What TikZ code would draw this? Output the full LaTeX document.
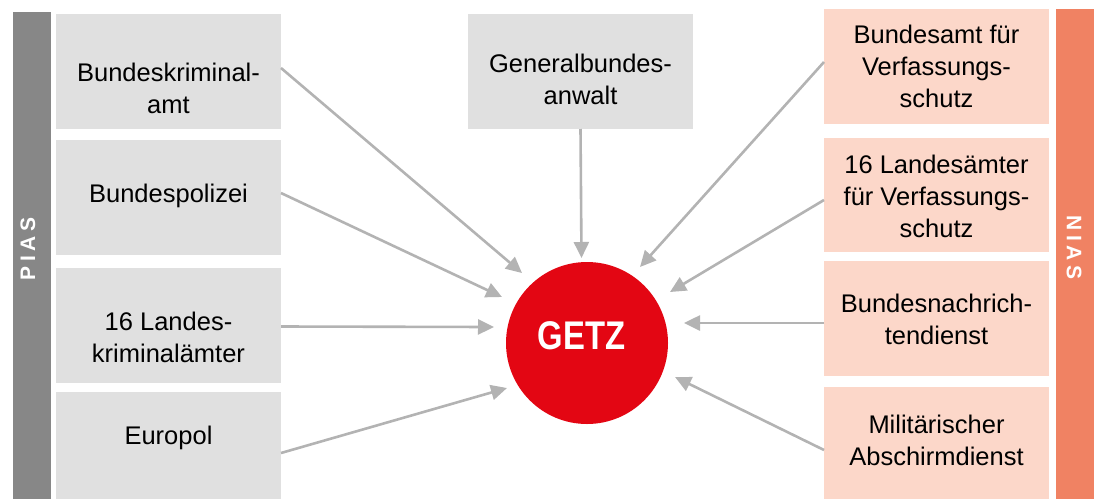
\documentclass[tikz,border=0pt]{standalone}
\usepackage{fontspec}
\setmainfont{Liberation Sans}
\usepackage{graphicx}
\usetikzlibrary{arrows.meta}
\definecolor{boxgray}{HTML}{E0E0E0}
\definecolor{bargray}{HTML}{878787}
\definecolor{boxsalmon}{HTML}{FCD7C9}
\definecolor{barsalmon}{HTML}{F08263}
\definecolor{getzred}{HTML}{E30613}
\definecolor{arrgray}{HTML}{B3B3B3}
\begin{document}
\begin{tikzpicture}[x=1pt,y=-1pt,
  gbox/.style={fill=boxgray, draw=none, rectangle, minimum width=225pt, outer sep=0pt, inner sep=0pt},
  sbox/.style={fill=boxsalmon, draw=none, rectangle, minimum width=225pt, outer sep=0pt, inner sep=0pt},
  bar/.style={draw=none, rectangle, minimum width=38pt, outer sep=0pt, inner sep=0pt},
  lbl/.style={font=\fontsize{25.5}{32}\selectfont, align=center, anchor=base, inner sep=0pt, text=black},
  vlbl/.style={font=\fontsize{21}{24}\bfseries\selectfont, text=white, inner sep=0pt},
  arr/.style={draw=arrgray, line width=2.6pt, -{Triangle[length=16pt,width=15pt]}}
]
\useasboundingbox (0,0) rectangle (1103,499);
% side bars
\node[bar, fill=bargray, minimum height=487pt] (pbar) at (32,255.5) {};
\node[bar, fill=barsalmon, minimum height=490pt] (nbar) at (1075,254) {};
\node[vlbl, rotate=90] (pias) at (28,249) {P\kern4.5pt I\kern4.5pt A\kern4.5pt S};
\node[vlbl, rotate=-90] (nias) at (1074,247.5) {N\kern4.5pt I\kern4.5pt A\kern4.5pt S};
% left boxes
\node[gbox, minimum height=115pt] (l1) at (168.5,71.5) {};
\node[gbox, minimum height=115pt] (l2) at (168.5,197.5) {};
\node[gbox, minimum height=115pt] (l3) at (168.5,325.5) {};
\node[gbox, minimum height=107pt] (l4) at (168.5,445.5) {};
\node[lbl] (l1t) at (168.5,113) {Bundeskriminal-\\amt};
\node[lbl] (l2t) at (168.5,202) {Bundespolizei};
\node[lbl] (l3t) at (168.5,362) {16 Landes-\\kriminalämter};
\node[lbl] (l4t) at (168.5,444) {Europol};
% center box
\node[gbox, minimum height=115pt] (c1) at (580.5,71.5) {};
\node[lbl] (c1t) at (580.5,104) {Generalbundes-\\anwalt};
% right boxes
\node[sbox, minimum height=115pt] (r1) at (936.5,66.5) {};
\node[sbox, minimum height=114pt] (r2) at (936.5,195) {};
\node[sbox, minimum height=115pt] (r3) at (936.5,318.5) {};
\node[sbox, minimum height=112pt] (r4) at (936.5,443) {};
\node[lbl] (r1t) at (936.5,107) {Bundesamt für\\Verfassungs-\\schutz};
\node[lbl] (r2t) at (936.5,237) {16 Landesämter\\für Verfassungs-\\schutz};
\node[lbl] (r3t) at (936.5,344) {Bundesnachrich-\\tendienst};
\node[lbl] (r4t) at (936.5,465) {Militärischer\\Abschirmdienst};
% GETZ
\node[circle, fill=getzred, minimum size=162pt, inner sep=0pt] (getz) at (587,343) {};
\node[font=\fontsize{40}{40}\bfseries\selectfont, text=white, inner sep=0pt] (getzt) at (581.5,335.5) {\scalebox{0.82}[1]{GETZ}};
% arrow tips
\coordinate (t1) at (522,273);
\coordinate (t2) at (502,297);
\coordinate (t3) at (494,327);
\coordinate (t4) at (507,388);
\coordinate (tc) at (581.5,258);
\coordinate (s1) at (640,267);
\coordinate (s2) at (670,292);
\coordinate (s3) at (684,323);
\coordinate (s4) at (675,377);
% arrows
\draw[arr] ([yshift=3.5pt]l1.east) -- (t1);
\draw[arr] ([yshift=4.5pt]l2.east) -- (t2);
\draw[arr] ([yshift=-1pt]l3.east) -- (t3);
\draw[arr] ([yshift=-7.5pt]l4.east) -- (t4);
\draw[arr] (c1.south) -- (tc);
\draw[arr] ([yshift=4.5pt]r1.west) -- (s1);
\draw[arr] ([yshift=-5pt]r2.west) -- (s2);
\draw[arr] ([yshift=-4.5pt]r3.west) -- (s3);
\draw[arr] ([yshift=-7pt]r4.west) -- (s4);
\end{tikzpicture}
\end{document}
